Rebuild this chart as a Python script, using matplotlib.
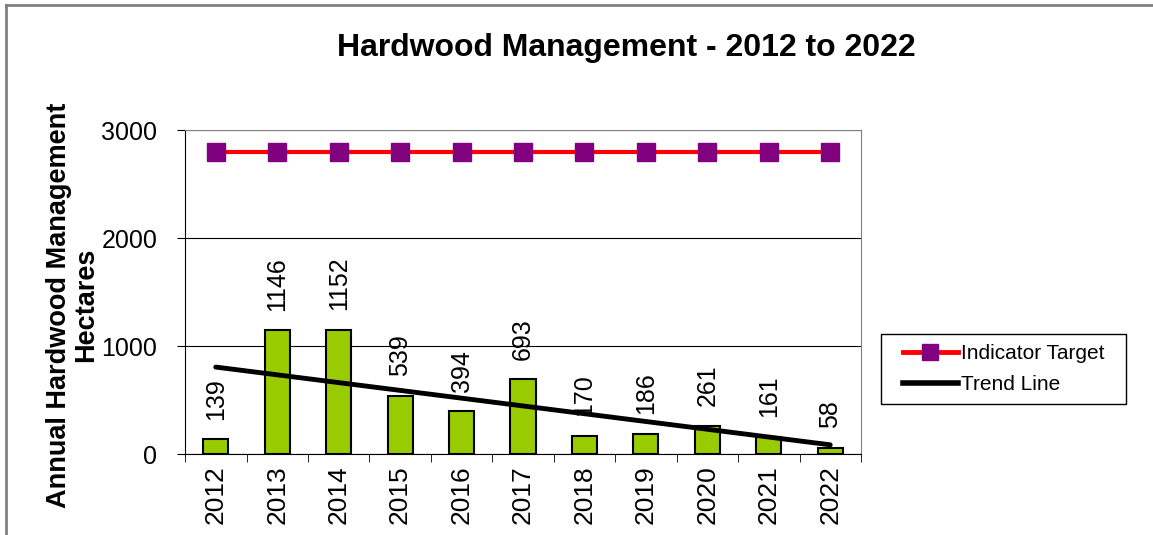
import matplotlib
matplotlib.use('Agg')

import matplotlib.pyplot as plt
import numpy as np
from matplotlib.lines import Line2D
from matplotlib.patches import Rectangle

# Datos
years = ['2012', '2013', '2014', '2015', '2016', '2017', '2018', '2019', '2020', '2021', '2022']
hectares = [139, 1146, 1152, 539, 394, 693, 170, 186, 261, 161, 58]
target = [2800] * len(years)
trend_ends = [805, 85]  # línea de tendencia en 2012 y 2022

plt.rcParams['font.family'] = ['Liberation Sans', 'DejaVu Sans']

fig = plt.figure(figsize=(11.53, 5.35), dpi=100)
ax = fig.add_axes([0.1605, 0.1514, 0.5862, 0.6056])

x = np.arange(len(years))
ax.bar(x, hectares, width=0.41, color='#99CC00', edgecolor='black', linewidth=1.5, zorder=3)

for xi, v in zip(x, hectares):
    ax.text(xi, v + 180, str(v), rotation=90, ha='center', va='bottom', fontsize=18, zorder=2)

ax.plot(x, target, color='red', linewidth=3, marker='s', markersize=13,
        markerfacecolor='purple', markeredgecolor='purple', zorder=4)
ax.plot([x[0], x[-1]], trend_ends, color='black', linewidth=3.5, zorder=5,
        solid_capstyle='round')

ax.set_xlim(-0.5, len(years) - 0.5)
ax.set_ylim(0, 3000)
ax.set_yticks([0, 1000, 2000, 3000])
ax.set_yticklabels(['0', '1000', '2000', '3000'], fontsize=18)
ax.yaxis.grid(True, color='black', linewidth=0.8, zorder=0)
ax.set_axisbelow(True)

ax.set_xticks(x)
ax.set_xticklabels(years, rotation=90, fontsize=19)
ax.tick_params(axis='x', length=0, pad=8)
ax.set_xticks(np.arange(-0.5, len(years)), minor=True)
ax.tick_params(axis='x', which='minor', length=6, direction='out', color='black')
ax.tick_params(axis='y', length=6, direction='out', color='black', pad=14)

for side in ['top', 'right']:
    ax.spines[side].set_color('#808080')
for side in ['left', 'bottom']:
    ax.spines[side].set_color('black')

ax.set_ylabel('Annual Hardwood Management\nHectares', fontsize=19.5, fontweight='bold',
              linespacing=1.05)
ax.yaxis.set_label_coords(-0.127, 0.46)

fig.text(0.543, 0.91, 'Hardwood Management - 2012 to 2022', ha='center', va='center',
         fontsize=23, fontweight='bold')

handles = [
    Line2D([], [], color='red', linewidth=3.5, marker='s', markersize=11,
           markerfacecolor='purple', markeredgecolor='purple'),
    Line2D([], [], color='black', linewidth=4),
]
leg = fig.legend(handles, ['Indicator Target', 'Trend Line'], loc='center left',
                 bbox_to_anchor=(0.774, 0.31), fontsize=15, frameon=False,
                 handlelength=2.65, handletextpad=0.15, borderpad=0.5,
                 labelspacing=0.55, borderaxespad=0)

# Marco de la leyenda con más margen horizontal
fig.canvas.draw()
bb = leg.get_window_extent()
fig.add_artist(Rectangle((bb.x0 - 11, bb.y0), bb.width + 22, bb.height, transform=None,
                         fill=False, edgecolor='black', linewidth=1.0))

# Borde exterior del gráfico (arriba e izquierda)
fig.add_artist(Line2D([0.005, 1.0], [0.99, 0.99], color='#808080', linewidth=2,
                      transform=fig.transFigure))
fig.add_artist(Line2D([0.005, 0.005], [0.0, 0.99], color='#808080', linewidth=2,
                      transform=fig.transFigure))

plt.savefig('out.png', dpi=100)
plt.close(fig)
